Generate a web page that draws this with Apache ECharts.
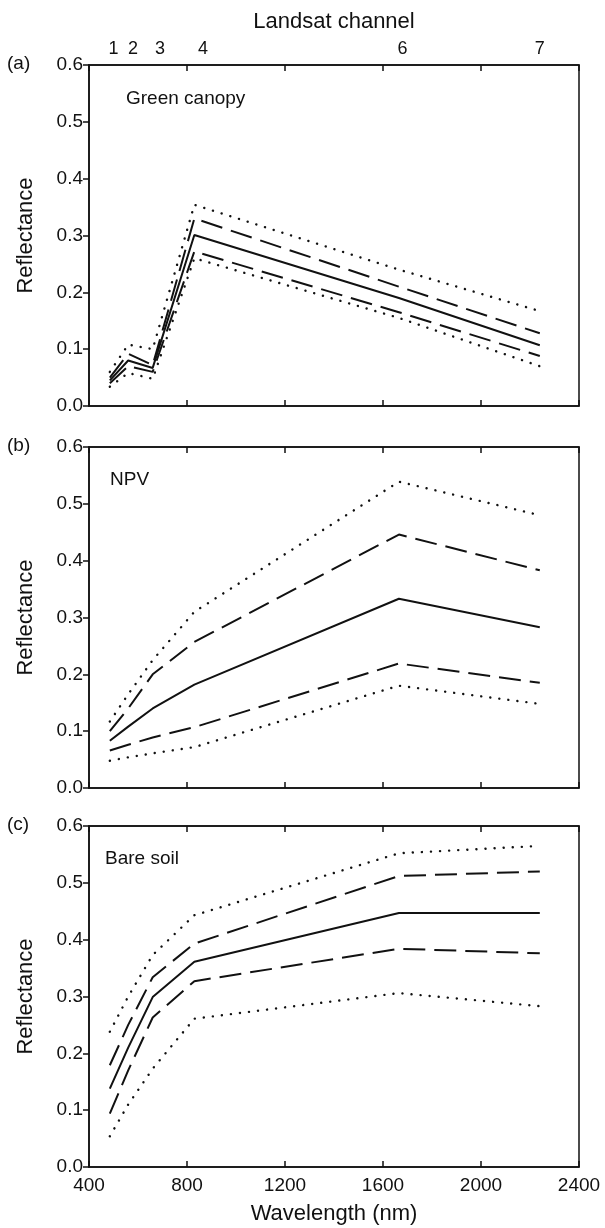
<!DOCTYPE html>
<html>
<head>
<meta charset="utf-8">
<script src="https://cdn.jsdelivr.net/npm/echarts@6/dist/echarts.min.js"></script>
<style>
  html, body { margin: 0; padding: 0; background: #fff; }
  #chart { width: 605px; height: 1228px; }
</style>
</head>
<body>
<div id="chart"></div>
<script>
// wavelengths (nm) of the Landsat band centres used for every curve
const wavelengths = [485, 560, 660, 830, 1665, 2240];

// top axis: channel label positions and names
const channelPos = [500, 580, 690, 865, 1680, 2240];
const channelNames = ['1', '2', '3', '4', '6', '7'];

// (a) green canopy
const greenDotHi  = [0.060, 0.108, 0.100, 0.354, 0.240, 0.167];
const greenDashHi = [0.050, 0.092, 0.072, 0.330, 0.210, 0.128];
const greenMean   = [0.045, 0.080, 0.067, 0.301, 0.190, 0.107];
const greenDashLo = [0.040, 0.070, 0.060, 0.272, 0.165, 0.088];
const greenDotLo  = [0.034, 0.058, 0.048, 0.260, 0.155, 0.070];

// (b) NPV
const npvDotHi  = [0.117, 0.165, 0.225, 0.310, 0.539, 0.480];
const npvDashHi = [0.100, 0.140, 0.200, 0.257, 0.446, 0.383];
const npvMean   = [0.083, 0.108, 0.140, 0.182, 0.333, 0.283];
const npvDashLo = [0.066, 0.076, 0.089, 0.107, 0.219, 0.185];
const npvDotLo  = [0.048, 0.054, 0.061, 0.072, 0.180, 0.148];

// (c) bare soil
const soilDotHi  = [0.238, 0.300, 0.373, 0.443, 0.552, 0.565];
const soilDashHi = [0.179, 0.250, 0.334, 0.393, 0.512, 0.520];
const soilMean   = [0.138, 0.210, 0.299, 0.361, 0.447, 0.447];
const soilDashLo = [0.094, 0.170, 0.263, 0.327, 0.384, 0.376];
const soilDotLo  = [0.054, 0.110, 0.173, 0.261, 0.306, 0.283];

const panels = [
  { tag: '(a)', title: 'Green canopy', sets: [greenDotHi, greenDashHi, greenMean, greenDashLo, greenDotLo] },
  { tag: '(b)', title: 'NPV', sets: [npvDotHi, npvDashHi, npvMean, npvDashLo, npvDotLo] },
  { tag: '(c)', title: 'Bare soil', sets: [soilDotHi, soilDashHi, soilMean, soilDashLo, soilDotLo] }
];

const FONT = 'Liberation Sans, Arial, sans-serif';
const INK = '#111';
const gridTops = [65, 447, 826];
const gridH = 341;

const dotted = { type: [0.1, 9], cap: 'round', width: 2.4 };
const dashed = { type: [22, 9], width: 2 };
const solid = { type: 'solid', width: 2 };
const styles = [dotted, dashed, solid, dashed, dotted];

const grids = gridTops.map(t => ({
  left: 89, right: 26, top: t, height: gridH,
  show: true, borderColor: INK, borderWidth: 1.5, backgroundColor: 'transparent'
}));

const xAxes = [];
gridTops.forEach((t, i) => {
  // bottom axis
  xAxes.push({
    type: 'value', gridIndex: i, position: 'bottom',
    min: 400, max: 2400, interval: 400,
    axisLine: { show: true, onZero: false, lineStyle: { color: INK, width: 1.5 } },
    axisTick: { show: true, inside: true, length: 6, lineStyle: { color: INK, width: 1.5 } },
    axisLabel: { show: i === 2, fontFamily: FONT, fontSize: 19, color: INK, margin: 9, formatter: v => String(v) },
    splitLine: { show: false },
    name: i === 2 ? 'Wavelength (nm)' : '',
    nameLocation: 'middle', nameGap: 36,
    nameTextStyle: { fontFamily: FONT, fontSize: 22, color: INK }
  });
});
gridTops.forEach((t, i) => {
  // top axis
  const top = {
    type: 'value', gridIndex: i, position: 'top',
    min: 400, max: 2400, interval: 400,
    axisLine: { show: true, onZero: false, lineStyle: { color: INK, width: 1.5 } },
    axisTick: { show: true, inside: true, length: 6, lineStyle: { color: INK, width: 1.5 } },
    axisLabel: { show: false },
    splitLine: { show: false }
  };
  if (i === 0) {
    top.axisLabel = {
      show: true, fontFamily: FONT, fontSize: 18, color: INK, margin: 7,
      customValues: channelPos,
      formatter: v => channelNames[channelPos.indexOf(v)] || ''
    };
    top.name = 'Landsat channel';
    top.nameLocation = 'middle';
    top.nameGap = 32;
    top.nameTextStyle = { fontFamily: FONT, fontSize: 22, color: INK };
  }
  xAxes.push(top);
});

const yAxes = gridTops.map((t, i) => ({
  type: 'value', gridIndex: i,
  min: 0, max: 0.6, interval: 0.1,
  axisLine: { show: true, lineStyle: { color: INK, width: 1.5 } },
  axisTick: { show: true, inside: false, length: 6, lineStyle: { color: INK, width: 1.5 } },
  axisLabel: { fontFamily: FONT, fontSize: 19, color: INK, margin: 6, formatter: v => v.toFixed(1) },
  splitLine: { show: false },
  name: 'Reflectance', nameLocation: 'middle', nameGap: 52,
  nameTextStyle: { fontFamily: FONT, fontSize: 22, color: INK }
}));

const series = [];
panels.forEach((p, i) => {
  p.sets.forEach((vals, k) => {
    series.push({
      type: 'line', xAxisIndex: i, yAxisIndex: i,
      data: wavelengths.map((w, j) => [w, vals[j]]),
      showSymbol: false, silent: true,
      lineStyle: Object.assign({ color: INK }, styles[k])
    });
  });
});

const graphics = [];
const titlePos = [[126, 100], [110, 481], [105, 860]];
panels.forEach((p, i) => {
  graphics.push({
    type: 'text', left: 7, top: gridTops[i] - 11,
    style: { text: p.tag, font: '19px ' + FONT, fill: INK }
  });
  graphics.push({
    type: 'text', left: titlePos[i][0], top: titlePos[i][1] - 11,
    style: { text: p.title, font: '19px ' + FONT, fill: INK }
  });
});

const chart = echarts.init(document.getElementById('chart'), null, { renderer: 'canvas' });
chart.setOption({
  animation: false,
  backgroundColor: '#fff',
  grid: grids,
  xAxis: xAxes,
  yAxis: yAxes,
  series: series,
  graphic: graphics
});
</script>
</body>
</html>
